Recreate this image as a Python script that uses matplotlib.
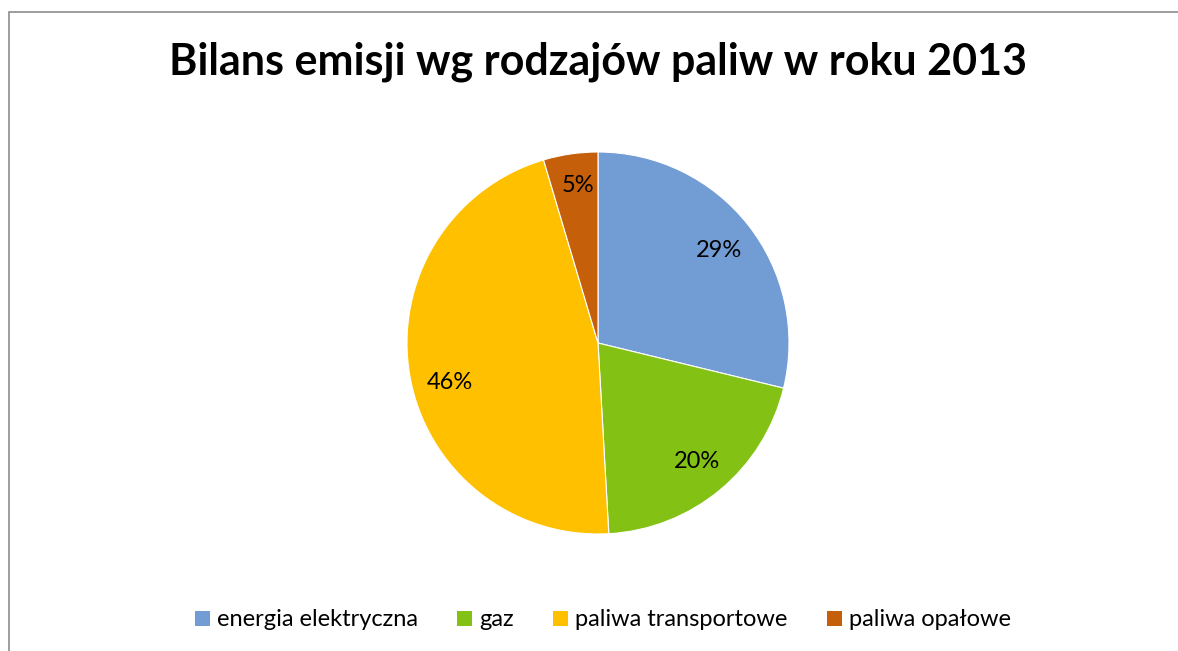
import matplotlib.pyplot as plt
from matplotlib.patches import Rectangle, Patch

plt.rcParams['font.family'] = ['Lato', 'DejaVu Sans']

categories = ['energia elektryczna', 'gaz', 'paliwa transportowe', 'paliwa opałowe']
shares = [28.8, 20.3, 46.3, 4.6]
colors = ['#729CD4', '#83C214', '#FFC000', '#C55F0A']
# Excel-style label placement (in pie radius units)
label_pos = [(0.634, 0.482), (0.518, -0.623), (-0.777, -0.209), (-0.105, 0.827)]

W, H = 1178, 651
fig = plt.figure(figsize=(W / 100, H / 100), dpi=100)

# chart border (Excel style), cut at right/bottom edges
fig.add_artist(Rectangle((9 / W, -0.01), 1.2, 1 - 12 / H + 0.01, transform=fig.transFigure,
                         fill=False, edgecolor='#8c8c8c', linewidth=1.2))

fig.text(598 / W, 1 - 62 / H, 'Bilans emisji wg rodzajów paliw w roku 2013',
         ha='center', va='center', fontsize=31, fontweight='bold', color='black')

cx, cy, r = 598, 343, 191
ax = fig.add_axes([(cx - r) / W, (H - cy - r) / H, 2 * r / W, 2 * r / H])
wedges, texts, autotexts = ax.pie(
    shares, colors=colors, startangle=90, counterclock=False,
    autopct=lambda p: f'{p:.0f}%', pctdistance=0.8, radius=1,
    wedgeprops=dict(edgecolor='white', linewidth=0.8),
    textprops=dict(fontsize=17, color='black'))
for t, pos in zip(autotexts, label_pos):
    t.set_position(pos)
ax.set_xlim(-1, 1)
ax.set_ylim(-1, 1)
ax.set_aspect('equal')
ax.axis('off')

handles = [Patch(facecolor=c, edgecolor='none') for c in colors]
fig.legend(handles, categories, loc='center', bbox_to_anchor=(603 / W, 1 - 620 / H),
           ncol=4, frameon=False, fontsize=17, handlelength=0.64, handleheight=0.6,
           handletextpad=0.3, columnspacing=1.65)

fig.savefig('out.png', dpi=100, facecolor='white')
